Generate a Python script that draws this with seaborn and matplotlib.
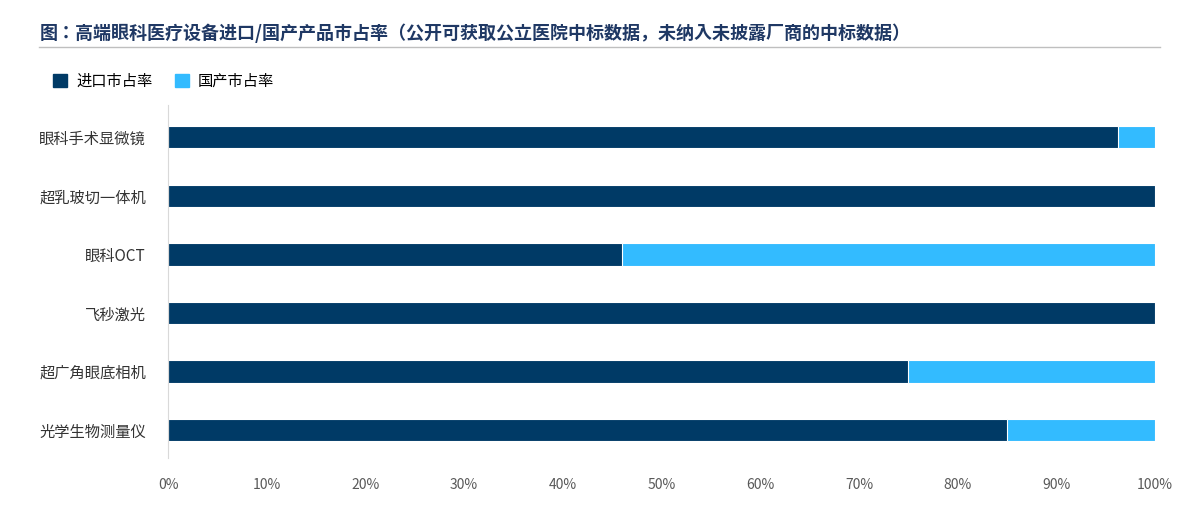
import matplotlib
matplotlib.use("Agg")
import matplotlib.pyplot as plt
from matplotlib import font_manager as fm
import seaborn as sns
import pandas as pd
import glob

cjk = None
for f in glob.glob("/usr/share/fonts/**/*CJK*", recursive=True) + glob.glob("/usr/share/fonts/**/*cjk*", recursive=True):
    try:
        fm.fontManager.addfont(f)
    except Exception:
        pass
names = [f.name for f in fm.fontManager.ttflist if "CJK" in f.name]
for pref in ["Noto Sans CJK SC", "Noto Sans CJK JP", "Noto Sans CJK TC", "Noto Sans CJK KR"]:
    if pref in names:
        cjk = pref; break
if cjk is None and names:
    cjk = names[0]
plt.rcParams["font.family"] = "sans-serif"
plt.rcParams["font.sans-serif"] = ([cjk] if cjk else []) + ["DejaVu Sans"]

categories = ["眼科手术显微镜", "超乳玻切一体机", "眼科OCT", "飞秒激光", "超广角眼底相机", "光学生物测量仪"]
import_share = [96.2, 100, 46, 100, 75, 85]
domestic_share = [3.8, 0, 54, 0, 25, 15]
ticks = [0, 10, 20, 30, 40, 50, 60, 70, 80, 90, 100]

df = pd.DataFrame({"cat": categories, "imp": import_share, "dom": domestic_share})
df["total"] = df["imp"] + df["dom"]

dark = "#003A66"
light = "#33BBFF"

fig = plt.figure(figsize=(11.92, 5.08), dpi=100)
ax = fig.add_axes([0.141, 0.098, 0.828, 0.695])
sns.barplot(data=df, y="cat", x="total", color=light, width=0.38, ax=ax, orient="h", saturation=1)
sns.barplot(data=df, y="cat", x="imp", color=dark, width=0.38, ax=ax, orient="h", saturation=1)
for p in ax.patches:
    p.set_edgecolor("white"); p.set_linewidth(0.8)

ax.set_xlim(0, 100)
ax.set_xticks(ticks)
ax.set_xticklabels([f"{t}%" for t in ticks], fontsize=10, color="#595959")
ax.tick_params(axis="y", length=0, labelsize=11, pad=16, labelcolor="#333333")
ax.tick_params(axis="x", length=0, pad=14)
ax.set_xlabel(""); ax.set_ylabel("")
for s in ["top", "right", "bottom"]:
    ax.spines[s].set_visible(False)
ax.spines["left"].set_color("#D9D9D9")
ax.set_ylim(5.48, -0.55)

fig.text(0.033, 0.935, "图：高端眼科医疗设备进口/国产产品市占率（公开可获取公立医院中标数据，未纳入未披露厂商的中标数据）",
         fontsize=13, fontweight="bold", color="#1F3864", va="center")
fig.add_artist(plt.Line2D([0.033, 0.973], [0.908, 0.908], color="#BFBFBF", lw=1))

from matplotlib.patches import Patch
fig.legend(handles=[Patch(color=dark, label="进口市占率"), Patch(color=light, label="国产市占率")],
           loc="center left", bbox_to_anchor=(0.033, 0.84), ncol=2, frameon=False,
           fontsize=11, handlelength=0.9, handleheight=0.9, columnspacing=1.5, handletextpad=0.6)
fig.savefig("out.png", dpi=100)
